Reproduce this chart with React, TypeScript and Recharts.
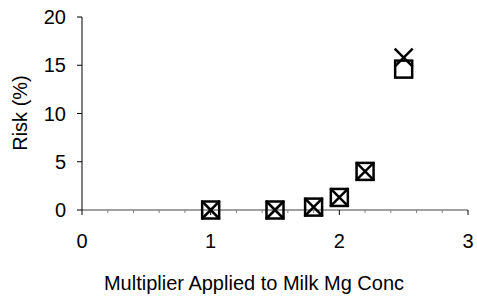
import { Scatter, ScatterChart, XAxis, YAxis } from "recharts"

const multipliers = [1, 1.5, 1.8, 2.0, 2.2, 2.5]
const riskSquare = [0, 0, 0.3, 1.3, 4.0, 14.6]
const riskCross = [0, 0, 0.3, 1.3, 4.0, 15.8]

const xTicks = [0, 0.2, 0.4, 0.6, 0.8, 1, 1.2, 1.4, 1.6, 1.8, 2, 2.2, 2.4, 2.6, 2.8, 3]
const yTicks = [0, 5, 10, 15, 20]

const squareData = multipliers.map((m, i) => ({ x: m, y: riskSquare[i] }))
const crossData = multipliers.map((m, i) => ({ x: m, y: riskCross[i] }))

const font = "'Liberation Sans', Arial, sans-serif"
const fs = 20

const SquareMark = (props: any) => {
  const { cx, cy } = props
  return <rect x={cx - 8.5} y={cy - 8.5} width={17} height={17} fill="none" stroke="#000" strokeWidth={2.5} />
}

const CrossMark = (props: any) => {
  const { cx, cy } = props
  return (
    <g stroke="#000" strokeWidth={2.5}>
      <line x1={cx - 9} y1={cy - 9} x2={cx + 9} y2={cy + 9} />
      <line x1={cx - 9} y1={cy + 9} x2={cx + 9} y2={cy - 9} />
    </g>
  )
}

const XTick = (props: any) => {
  const { x, y, payload } = props
  const v = payload.value
  const major = Math.abs(v - Math.round(v)) < 1e-6
  return (
    <g>
      <line x1={x} y1={y} x2={x} y2={y + (major ? 5 : 3)} stroke={major ? "#000" : "#808080"} strokeWidth={1} />
      {major && (
        <text x={x} y={y + 38} textAnchor="middle" fontSize={fs} fontFamily={font} fill="#000">
          {Math.round(v)}
        </text>
      )}
    </g>
  )
}

export default function App() {
  return (
    <div style={{ position: "absolute", left: 0, top: 0, background: "#fff" }}>
      <ScatterChart width={477} height={299} margin={{ top: 17, right: 9, left: 0, bottom: 0 }}>
        <XAxis
          type="number"
          dataKey="x"
          domain={[0, 3]}
          ticks={xTicks}
          interval={0}
          height={89}
          tickLine={false}
          tickSize={0}
          tickMargin={0}
          axisLine={{ stroke: "#808080", strokeWidth: 1.5 }}
          tick={<XTick />}
          label={{
            content: () => (
              <text x={254} y={290} textAnchor="middle" fontSize={fs} fontFamily={font} fill="#000">
                Multiplier Applied to Milk Mg Conc
              </text>
            ),
          }}
        />
        <YAxis
          type="number"
          dataKey="y"
          domain={[0, 20]}
          ticks={yTicks}
          interval={0}
          width={82}
          tickSize={5}
          tickMargin={11}
          axisLine={{ stroke: "#000" }}
          tickLine={{ stroke: "#000" }}
          tick={{ fontSize: fs, fontFamily: font, fill: "#000" }}
          label={{
            content: () => (
              <text x={20} y={113} transform="rotate(-90 20 113)" textAnchor="middle" dominantBaseline="central" fontSize={fs} fontFamily={font} fill="#000">
                Risk (%)
              </text>
            ),
          }}
        />
        <Scatter data={squareData} shape={<SquareMark />} isAnimationActive={false} />
        <Scatter data={crossData} shape={<CrossMark />} isAnimationActive={false} />
      </ScatterChart>
    </div>
  )
}
